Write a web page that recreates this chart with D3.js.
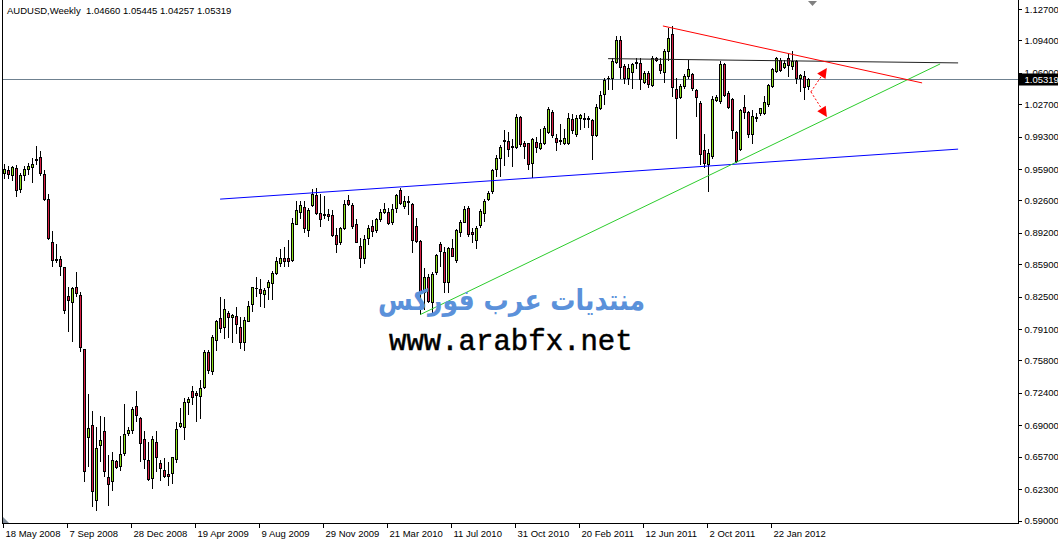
<!DOCTYPE html>
<html><head><meta charset="utf-8">
<script src="https://cdn.jsdelivr.net/npm/d3@7"></script>
<style>html,body{margin:0;padding:0;background:#fff;overflow:hidden}svg{display:block}</style>
</head><body>
<svg id="c" width="1058" height="541"></svg>
<script>
// ---- data (AUDUSD weekly) ----
const opens = [.9547,.9578,.9526,.9599,.9379,.9526,.9589,.9613,.9683,.9718,.9539,.9274,.8826,.8648,.8648,.8557,.8260,.8189,.8354,.8270,
.7701,.6774,.6904,.6120,.6694,.6836,.6361,.6312,.6522,.6473,.6606,.6816,.6851,.7099,.6977,.6757,.6536,.6348,.6721,.6501,
.6432,.6390,.6400,.6547,.6889,.6879,.7141,.7256,.7235,.7211,.7298,.7665,.7466,.7795,.8026,.7927,.8078,.8032,.8050,.7927,
.7770,.7998,.8173,.8340,.8330,.8278,.8354,.8393,.8498,.8603,.8655,.8655,.8637,.9018,.9141,.9193,.8949,.9211,.9319,.9127,
.9123,.9117,.9109,.8896,.8829,.8970,.9264,.9211,.9012,.8784,.8655,.8861,.8994,.8949,.9064,.9144,.9144,.9029,.9186,.9368,
.9204,.9240,.9222,.8987,.8837,.8294,.8452,.8190,.8512,.8802,.8721,.8407,.8760,.8634,.8931,.9036,.9176,.8924,.8847,.9001,
.9133,.9274,.9361,.9589,.9710,.9893,.9886,.9823,.9826,1.0137,.9868,.9861,.9658,.9878,.9815,.9868,.9983,1.0193,.9920,.9896,
.9861,.9868,1.0113,.9962,1.0124,1.0120,1.0130,1.0106,.9945,1.0235,1.0375,1.0543,1.0543,1.0718,1.0942,1.0672,1.0550,1.0612,1.0700,1.0707,
1.0508,1.0602,1.0470,1.0753,1.0696,1.0612,1.0829,1.1011,1.0428,1.0346,1.0463,1.0568,1.0592,1.0417,1.0287,.9788,.9641,.9728,1.0313,1.0305,
1.0690,1.0392,1.0323,.9980,.9798,1.0242,1.0190,.9956,1.0130,1.0183,1.0183,1.0270,1.0463,1.0620,1.0732,1.0665,1.0753,1.0672,1.0725,1.0543,
1.0568,1.04660];
const highs = [.9641,.9623,.9623,.9634,.9547,.9623,.9658,.9704,.9833,.9781,.9578,.9326,.8942,.8802,.8679,.8564,.8347,.8347,.8512,.8295,
.7705,.7229,.7054,.6886,.7001,.6983,.6592,.6616,.6536,.6791,.7124,.6886,.7088,.7263,.6991,.6836,.6721,.6791,.6844,.6536,
.6553,.6519,.6571,.6938,.7082,.7187,.7200,.7316,.7263,.7376,.7690,.7690,.7851,.8005,.8249,.8225,.8103,.8068,.8145,.8032,
.8032,.8208,.8354,.8459,.8435,.8341,.8428,.8522,.8662,.8750,.8774,.8844,.9081,.9256,.9256,.9256,.9180,.9379,.9396,.9327,
.9309,.9169,.9159,.8976,.8984,.9264,.9319,.9238,.9064,.8871,.8900,.9004,.9054,.9081,.9169,.9238,.9186,.9222,.9333,.9389,
.9309,.9309,.9238,.9071,.8847,.8546,.8487,.8504,.8697,.8819,.8767,.8767,.8854,.8959,.9057,.9204,.9204,.8976,.8994,.9169,
.9274,.9361,.9589,.9736,.9840,1.0001,.9980,.9903,1.0166,1.0148,.9886,.9868,.9920,.9931,1.0015,1.0043,1.0242,1.0208,.9956,1.0061,
1.0008,1.0182,1.0166,1.0158,1.0172,1.0182,1.0148,1.0113,1.0270,1.0410,1.0550,1.0568,1.0759,1.0987,1.0987,1.0690,1.0690,1.0707,1.0753,1.0759,
1.0620,1.0620,1.0777,1.0767,1.0753,1.0847,1.1074,1.1092,1.0550,1.0480,1.0590,1.0732,1.0602,1.0428,1.0305,.9956,.9798,1.0357,1.0368,1.0725,
1.0707,1.0410,1.0340,.9991,1.0218,1.0368,1.0200,1.0208,1.0182,1.0235,1.0357,1.0480,1.0648,1.0767,1.0753,1.0732,1.0801,1.0829,1.0732,1.0585,
1.0620,1.05445];
const lows = [.9494,.9494,.9473,.9309,.9354,.9473,.9536,.9459,.9641,.9526,.9260,.8854,.8567,.8609,.8477,.8074,.7885,.7780,.8260,.7675,
.6312,.6477,.6057,.6005,.6522,.6372,.6064,.6222,.6452,.6435,.6592,.6802,.6820,.6949,.6529,.6452,.6330,.6243,.6424,.6327,
.6361,.6274,.6291,.6511,.6879,.6757,.7019,.7124,.6941,.6977,.7292,.7445,.7438,.7690,.7875,.7816,.7830,.7770,.7868,.7711,
.7690,.7990,.8103,.8260,.8155,.8137,.8225,.8225,.8487,.8567,.8574,.8574,.8627,.9012,.9081,.8934,.8889,.9204,.9117,.8994,
.9081,.9054,.8889,.8714,.8802,.8959,.9211,.8970,.8826,.8557,.8599,.8802,.8889,.8931,.9047,.9133,.9012,.9012,.9141,.9222,
.9176,.9117,.8724,.8826,.8068,.8120,.8190,.8092,.8487,.8574,.8294,.8294,.8672,.8616,.8889,.9029,.8889,.8819,.8756,.8984,
.9047,.9267,.9343,.9518,.9518,.9631,.9728,.9623,.9815,.9833,.9710,.9595,.9511,.9770,.9805,.9857,.9973,.9927,.9788,.9851,
.9857,.9857,.9973,.9938,1.0008,1.0033,1.0033,.9694,.9938,1.0218,1.0270,1.0428,1.0428,1.0707,1.0550,1.0497,1.0487,1.0445,1.0654,1.0428,
1.0497,1.0452,1.0463,1.0725,1.0602,1.0508,1.0732,1.0358,.9920,1.0337,1.0440,1.0550,1.0417,1.0148,.9641,.9606,.9361,.9710,1.0305,1.0287,
1.0357,1.0235,.9920,.9665,.9788,1.0130,.9927,.9868,1.0095,1.0158,1.0172,1.0253,1.0452,1.0612,1.0620,1.0654,1.0568,1.0638,1.0497,1.0410,
1.0323,1.04257];
const closes = [.9589,.9536,.9613,.9368,.9526,.9589,.9623,.9644,.9694,.9547,.9274,.8871,.8637,.8640,.8567,.8110,.8215,.8344,.8284,.7717,
.6417,.6872,.6207,.6662,.6746,.6424,.6285,.6536,.6466,.6599,.6809,.6851,.7071,.7012,.6715,.6547,.6337,.6757,.6564,.6452,
.6372,.6372,.6564,.6862,.6921,.7141,.7176,.7193,.7221,.7292,.7665,.7480,.7830,.7990,.7921,.8120,.8032,.8057,.7963,.7770,
.8005,.8155,.8347,.8345,.8288,.8320,.8407,.8498,.8620,.8655,.8627,.8620,.9022,.9159,.9211,.8976,.9159,.9327,.9133,.9064,
.9109,.9099,.8900,.8808,.8970,.9222,.9222,.8987,.8829,.8655,.8854,.8970,.8942,.9064,.9144,.9169,.9022,.9169,.9316,.9232,
.9256,.9250,.8844,.8837,.8294,.8452,.8200,.8487,.8687,.8732,.8407,.8760,.8679,.8949,.9036,.9169,.8907,.8907,.8966,.9151,
.9256,.9343,.9581,.9704,.9826,.9882,.9805,.9833,1.0140,.9851,.9833,.9641,.9903,.9826,.9861,1.0025,1.0218,.9945,.9878,.9886,
.9914,1.0124,.9998,1.0130,1.0155,1.0130,1.0120,.9945,1.0242,1.0368,1.0522,1.0550,1.0725,1.0945,1.0665,1.0543,1.0648,1.0690,1.0714,1.0533,
1.0596,1.0487,1.0759,1.0732,1.0627,1.0829,1.0963,1.0452,1.0340,1.0463,1.0568,1.0638,1.0445,1.0347,.9746,.9658,.9763,1.0323,1.0347,1.0690,
1.0368,1.0242,.9998,.9676,1.0208,1.0193,.9956,1.0148,1.0140,1.0229,1.0295,1.0470,1.0638,1.0753,1.0627,1.0707,1.0680,1.0725,1.0550,1.0578,
1.0452,1.05319];

const priceTicks = [0.59,0.623,0.657,0.69,0.724,0.758,0.791,0.825,0.859,0.892,0.926,0.959,0.993,1.027,1.06,1.094,1.127];
const dateTickBars = [0,16,32,48,64,80,96,112,128,144,160,176,192];
const dateTickLabels = ["18 May 2008","7 Sep 2008","28 Dec 2008","19 Apr 2009","9 Aug 2009","29 Nov 2009","21 Mar 2010","11 Jul 2010","31 Oct 2010","20 Feb 2011","12 Jun 2011","2 Oct 2011","22 Jan 2012"];
const symbolTitle = "AUDUSD,Weekly";
const lastBar = [1.04660,1.05445,1.04257,1.05319];
// trend lines: [bar index, price]
const blueLine  = [[53.9,0.9274],[238.4,0.9799]];
const greenLine = [[103.9,0.8061],[233.9,1.0693]];
const redLine   = [[164.6,1.1092],[229.4,1.0494]];
const blackLine = [[150.9,1.0749],[238.4,1.0704]];
const arrowFrom = [201.6,1.0400];
const arrowTips = [[205.6,1.0651],[205.6,1.0137]];
const watermarkAr = "منتديات عرب فوركس";
const watermarkUrl = "www.arabfx.net";

// ---- chart ----
(function(){
const svg = d3.select('#c');
const font = "'Liberation Sans', Arial, sans-serif";
const x = d3.scaleLinear().domain([0, 253.5]).range([4.5, 1018.5]);
const y = d3.scaleLinear().domain([0.59, 1.127]).range([520.5, 9]);
const n = opens.length;
const idx = d3.range(n);

// current price line
const yLast = Math.round(y(lastBar[3]));
svg.append('line').attr('x1',3).attr('x2',1018).attr('y1',yLast+0.5).attr('y2',yLast+0.5)
  .attr('stroke','#6f8190').attr('stroke-width',1);

// candles
const cg = svg.append('g').attr('shape-rendering','crispEdges');
cg.selectAll('rect.w').data(idx).join('rect').attr('class','w')
  .attr('x', i => x(i)-0.5).attr('width',1)
  .attr('y', i => Math.round(y(highs[i])))
  .attr('height', i => Math.max(1, Math.round(y(lows[i])) - Math.round(y(highs[i])) + 1))
  .attr('fill','#000');
const bodyTop = i => Math.round(y(Math.max(opens[i],closes[i])));
const bodyBot = i => Math.round(y(Math.min(opens[i],closes[i])));
cg.selectAll('rect.b').data(idx).join('rect').attr('class','b')
  .attr('x', i => x(i)-1.5).attr('width',3)
  .attr('y', bodyTop).attr('height', i => bodyBot(i)-bodyTop(i)+1)
  .attr('fill','#000');
cg.selectAll('rect.f').data(idx.filter(i => bodyBot(i)-bodyTop(i) >= 2)).join('rect').attr('class','f')
  .attr('x', i => x(i)-0.5).attr('width',1)
  .attr('y', i => bodyTop(i)+1).attr('height', i => bodyBot(i)-bodyTop(i)-1)
  .attr('fill', i => closes[i] >= opens[i] ? '#8ee01c' : '#d81e44');

// trend lines
const line = d3.line().x(d => x(d[0])).y(d => y(d[1]));
svg.append('path').attr('d', line(blueLine)).attr('stroke','#0000ff').attr('fill','none');
svg.append('path').attr('d', line(greenLine)).attr('stroke','#2ccc2c').attr('fill','none');
svg.append('path').attr('d', line(blackLine)).attr('stroke','#222').attr('fill','none');
svg.append('path').attr('d', line(redLine)).attr('stroke','#ff0000').attr('fill','none');

// dashed red arrows
arrowTips.forEach(t => {
  const x0 = x(arrowFrom[0]), y0 = y(arrowFrom[1]), x1 = x(t[0]), y1 = y(t[1]);
  const dx = x1-x0, dy = y1-y0, L = Math.hypot(dx,dy), ux = dx/L, uy = dy/L;
  const bx = x1 - 10*ux, by = y1 - 10*uy, px = -uy*5, py = ux*5;
  svg.append('line').attr('x1',x0).attr('y1',y0).attr('x2',bx).attr('y2',by)
    .attr('stroke','#ff0000').attr('stroke-dasharray','2,2');
  svg.append('path').attr('d',`M${x1},${y1}L${bx+px},${by+py}L${bx-px},${by-py}Z`).attr('fill','#ff0000');
});

// watermark
svg.append('text').attr('x',511.5).attr('y',310).attr('text-anchor','middle')
  .attr('font-family',"'DejaVu Sans', sans-serif").attr('font-weight','bold').attr('font-size',29)
  .attr('textLength',267).attr('lengthAdjust','spacingAndGlyphs')
  .attr('fill','#5b91da').text(watermarkAr);
svg.append('text').attr('x',389).attr('y',350)
  .attr('font-family',"'Liberation Mono', 'Courier New', monospace").attr('font-size',29)
  .attr('fill','#000').attr('stroke','#000').attr('stroke-width',0.5).text(watermarkUrl);

// frame
const fr = svg.append('g').attr('shape-rendering','crispEdges').attr('stroke','#000');
fr.append('line').attr('x1',2.5).attr('x2',2.5).attr('y1',0).attr('y2',524);
fr.append('line').attr('x1',1018.5).attr('x2',1018.5).attr('y1',0).attr('y2',524);
fr.append('line').attr('x1',2).attr('x2',1019).attr('y1',523.5).attr('y2',523.5);

// right price axis
const ya = svg.append('g').attr('transform','translate(1018.5,0)')
  .call(d3.axisRight(y).tickValues(priceTicks).tickSize(3).tickPadding(3).tickFormat(d3.format('.5f')));
ya.select('.domain').remove();
ya.selectAll('line').attr('stroke','#000').attr('shape-rendering','crispEdges');
ya.selectAll('text').attr('font-family',font).attr('font-size','9.5px').attr('fill','#000');

// bottom date axis
const xa = svg.append('g').attr('transform','translate(-1.5,523.5)')
  .call(d3.axisBottom(x).tickValues(dateTickBars).tickSize(4).tickPadding(3).tickFormat((d,i) => dateTickLabels[i]));
xa.select('.domain').remove();
xa.selectAll('line').attr('stroke','#000').attr('shape-rendering','crispEdges');
xa.selectAll('text').attr('text-anchor','start').attr('x',2).attr('font-family',font).attr('font-size','9.5px').attr('fill','#000');

// current price box
svg.append('rect').attr('x',1019).attr('y',yLast-5.5).attr('width',39).attr('height',12).attr('fill','#000');
svg.append('text').attr('x',1024.5).attr('y',yLast+0.5).attr('dominant-baseline','central')
  .attr('font-family',font).attr('font-size','9.5px').attr('fill','#fff').text(d3.format('.5f')(lastBar[3]));

// header
svg.append('text').attr('x',7).attr('y',13.5).attr('font-family',font).attr('font-size','9.5px').attr('fill','#000')
  .attr('xml:space','preserve').style('white-space','pre')
  .text(symbolTitle + '  ' + lastBar.map(d3.format('.5f')).join(' '));

// markers
svg.append('path').attr('d','M808,1L817,1L812.5,6Z').attr('fill','#808080');
svg.append('path').attr('d','M3,517L3,523L9,523Z').attr('fill','#7f8c99');
})();
</script>
</body></html>
